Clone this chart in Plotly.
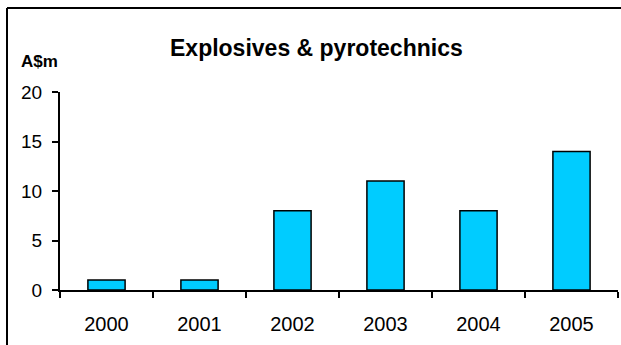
import plotly.graph_objects as go

years = ["2000", "2001", "2002", "2003", "2004", "2005"]
values = [1, 1, 8, 11, 8, 14]
y_ticks = [0, 5, 10, 15, 20]

W, H = 621, 345
L, R, T, B = 60, 3, 92, 55
pw = W - L - R
ph = H - T - B

def px_x(p):
    return (p - L) / pw

def px_y(p):
    return (H - B - p) / ph

fig = go.Figure(go.Bar(
    x=years, y=values, width=0.4,
    marker=dict(color="#00CCFF", line=dict(color="black", width=1.5)),
))

font = "Liberation Sans, Arial, sans-serif"
fig.update_layout(
    width=W, height=H,
    margin=dict(l=L, r=R, t=T, b=B, pad=0),
    paper_bgcolor="white", plot_bgcolor="white",
    showlegend=False,
    font=dict(family=font, size=20, color="black"),
)
fig.update_xaxes(
    showline=True, linecolor="black", linewidth=2,
    ticks="outside", tickson="boundaries", ticklen=6, tickwidth=2, tickcolor="black",
    showgrid=False, zeroline=False,
    tickfont=dict(size=20, family=font),
    ticklabelstandoff=15,
)
fig.update_yaxes(
    range=[0, 20], tickvals=y_ticks,
    showline=True, linecolor="black", linewidth=2,
    ticks="outside", ticklen=6, tickwidth=2, tickcolor="black",
    showgrid=False, zeroline=False,
    tickfont=dict(size=19, family=font),
    ticklabelstandoff=6,
)
fig.add_annotation(
    text="<b>Explosives & pyrotechnics</b>", xref="paper", yref="paper",
    x=px_x(316), y=px_y(48), xanchor="center", yanchor="middle",
    showarrow=False, font=dict(size=23, family=font, color="black"),
)
fig.add_annotation(
    text="<b>A$m</b>", xref="paper", yref="paper",
    x=px_x(19), y=px_y(62), xanchor="left", yanchor="middle",
    showarrow=False, font=dict(size=17, family=font, color="black"),
)
# outer frame (clipped on right and bottom)
fig.add_shape(type="line", xref="paper", yref="paper",
              x0=px_x(7), y0=px_y(8), x1=px_x(W), y1=px_y(8),
              line=dict(color="black", width=2))
fig.add_shape(type="line", xref="paper", yref="paper",
              x0=px_x(7), y0=px_y(8), x1=px_x(7), y1=px_y(H),
              line=dict(color="black", width=2))

fig.write_html(
    "out.html",
    config={"displayModeBar": False},
    post_script="document.body.style.margin='0';document.body.style.overflow='hidden';",
)
